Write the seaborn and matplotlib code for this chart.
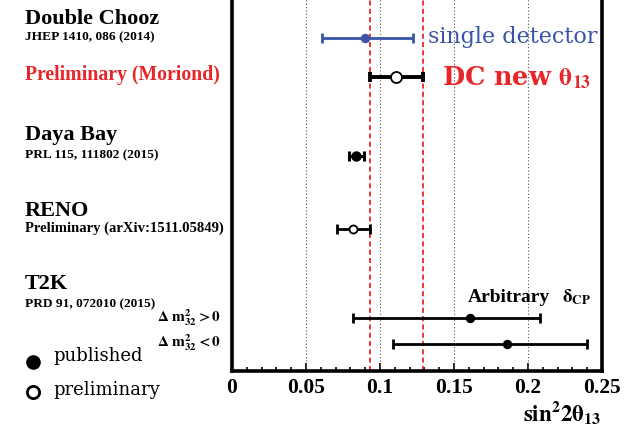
import matplotlib
matplotlib.use("Agg")
import matplotlib.pyplot as plt
import seaborn as sns
import numpy as np
import pandas as pd

sns.set_theme(style="white")
plt.rcParams["font.family"] = ["Liberation Serif", "DejaVu Serif"]
plt.rcParams["mathtext.fontset"] = "stix"
plt.rcParams["text.color"] = "black"
plt.rcParams["xtick.color"] = "black"
plt.rcParams["axes.labelcolor"] = "black"

# ---- data ----
experiments = ["DC single", "DC new", "Daya Bay", "RENO", "T2K NH", "T2K IH"]
central = [0.090, 0.111, 0.084, 0.082, 0.161, 0.186]
err_low = [0.029, 0.018, 0.005, 0.011, 0.079, 0.077]
err_high = [0.032, 0.018, 0.005, 0.011, 0.047, 0.054]
status = ["published", "preliminary", "published", "preliminary", "published", "published"]
xticks = [0, 0.05, 0.1, 0.15, 0.2, 0.25]
xtick_labels = ["0", "0.05", "0.1", "0.15", "0.2", "0.25"]

# ---- layout (row positions in px from top) ----
W, H = 635, 428
row_pos = [37.7, 77, 155.7, 228.7, 318.3, 344]
bar_colors = ["#3a55a8", "black", "black", "black", "black", "black"]
bar_lw = [2.0, 2.8, 2.2, 2.0, 2.0, 2.0]
msize_px = [8, 11, 9, 8, 8, 8]
PT = 0.72  # points per pixel at dpi 100

df = pd.DataFrame({"exp": experiments, "x": central, "lo": err_low, "hi": err_high,
                   "y": row_pos, "status": status})

fig = plt.figure(figsize=(W / 100, H / 100), dpi=100)
ax_bottom = 1 - 371 / H
ax = fig.add_axes([232 / W, ax_bottom, (602 - 232) / W, 1.03 - ax_bottom])
ax.set_xlim(0, 0.25)
top_px = -0.03 * H
ax.set_ylim(371, top_px)

# grid lines
for g in xticks[1:-1]:
    ax.axvline(g, color="#555555", lw=0.8, ls=(0, (1, 2)), zorder=1)

# red dashed lines at DC new bounds
dc = df.iloc[1]
for v in (dc.x - dc.lo, dc.x + dc.hi):
    ax.axvline(v, color="#e8262a", lw=1.3, ls=(0, (2.8, 1.8)), zorder=1.5)

for i, r in df.iterrows():
    ax.errorbar(r.x, r.y, xerr=[[r.lo], [r.hi]], fmt="none", ecolor=bar_colors[i],
                elinewidth=bar_lw[i], capsize=3.8, capthick=bar_lw[i], zorder=3)

for i, r in df.iterrows():
    filled = r.status == "published"
    sns.scatterplot(x=[r.x], y=[r.y], ax=ax, s=(msize_px[i] * PT) ** 2, marker="o",
                    color=bar_colors[i] if filled else "white",
                    edgecolor=bar_colors[i], linewidth=1.0 if filled else 1.3,
                    zorder=4, legend=False)

# axes styling
for s in ["left", "right", "bottom"]:
    ax.spines[s].set_visible(True)
    ax.spines[s].set_linewidth(2.6)
    ax.spines[s].set_color("black")
ax.spines["top"].set_visible(False)
ax.set_xticks(xticks)
ax.set_xticklabels(xtick_labels, fontweight="bold", fontsize=15.5)
ax.set_xticks(np.arange(0, 0.2501, 0.01), minor=True)
ax.tick_params(axis="x", which="both", direction="in", length=2.6, width=1.2,
               bottom=True, top=False, pad=5, colors="black")
ax.tick_params(axis="x", which="major", length=5.5)
ax.set_yticks([])
ax.set_xlabel("")
ax.set_ylabel("")

def ftext(x, y, s, **kw):
    fig.text(x / W, 1 - y / H, s, va="center", **kw)

ftext(25, 19, "Double Chooz", fontsize=16, fontweight="bold")
ftext(25, 37, "JHEP 1410, 086 (2014)", fontsize=9.6, fontweight="bold")
ftext(25, 75, "Preliminary (Moriond)", fontsize=14.2, fontweight="bold", color="#e8262a")
ftext(25, 135, "Daya Bay", fontsize=16, fontweight="bold")
ftext(25, 155, "PRL 115, 111802 (2015)", fontsize=9.6, fontweight="bold")
ftext(25, 211, "RENO", fontsize=16, fontweight="bold")
ftext(25, 228, "Preliminary (arXiv:1511.05849)", fontsize=10.5, fontweight="bold")
ftext(25, 284, "T2K", fontsize=16, fontweight="bold")
ftext(25, 304, "PRD 91, 072010 (2015)", fontsize=9.6, fontweight="bold")
ftext(157, 318, r"$\mathbf{\Delta\ m^{2}_{32} > 0}$", fontsize=11)
ftext(157, 343, r"$\mathbf{\Delta\ m^{2}_{32} < 0}$", fontsize=11)

# legend-like markers
fig.add_artist(plt.Line2D([33 / W], [1 - 362 / H], marker="o", ms=9.5, color="black",
                          transform=fig.transFigure))
fig.add_artist(plt.Line2D([33 / W], [1 - 392 / H], marker="o", ms=8.8, mfc="white",
                          mec="black", mew=2, color="black", transform=fig.transFigure))
ftext(53, 356, "published", fontsize=13, family="DejaVu Serif")
ftext(53, 390, "preliminary", fontsize=13, family="DejaVu Serif")

ftext(428, 37, "single detector", fontsize=16, color="#3a55a8", family="DejaVu Serif")
ftext(442, 78, r"DC new $\mathbf{\theta_{13}}$", fontsize=18.4, color="#e8262a",
      family="DejaVu Serif", fontweight="bold")
ftext(468, 297, "Arbitrary", fontsize=14, fontweight="bold")
ftext(562, 297, r"$\mathbf{\delta_{CP}}$", fontsize=13.5)
ftext(523, 413, r"$\mathbf{sin^{2}2\theta_{13}}$", fontsize=16.5)

fig.savefig("out.png", dpi=100)
